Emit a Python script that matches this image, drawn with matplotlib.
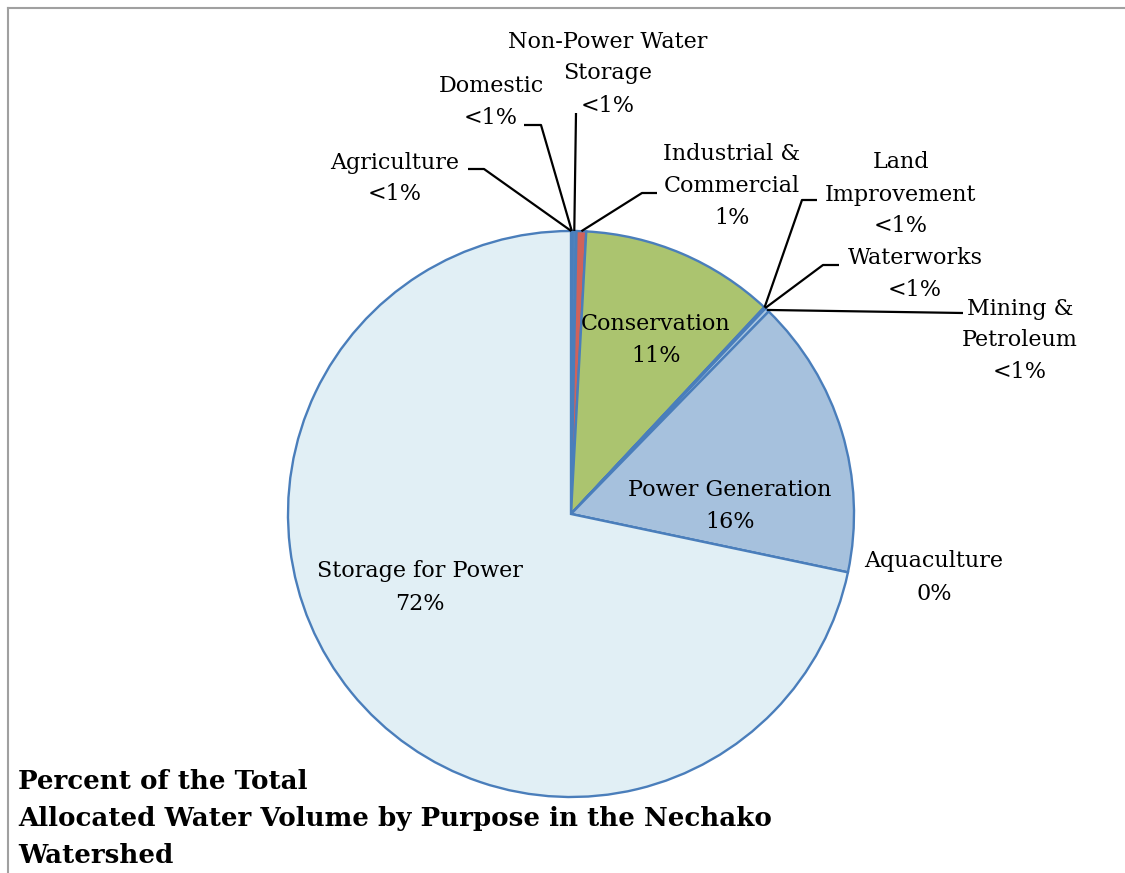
import numpy as np
import matplotlib
matplotlib.use("Agg")
import matplotlib.pyplot as plt
from matplotlib.lines import Line2D

categories = ["Agriculture", "Domestic", "Non-Power Water\nStorage", "Industrial &\nCommercial",
              "Conservation", "Land\nImprovement", "Waterworks", "Mining &\nPetroleum",
              "Power Generation", "Aquaculture", "Storage for Power"]
values = [0.03, 0.03, 0.25, 0.55, 11.1, 0.05, 0.05, 0.25, 16.0, 0.0, 71.7]
pct_labels = ["<1%", "<1%", "<1%", "1%", "11%", "<1%", "<1%", "<1%", "16%", "0%", "72%"]
colors = ["#4F81BD", "#4F81BD", "#4F81BD", "#D0625A", "#ABC46F", "#A9C6E2", "#A9C6E2",
          "#A9C6E2", "#A6C1DD", "#A6C1DD", "#E1EFF5"]
title_lines = ["Percent of the Total",
               "Allocated Water Volume by Purpose in the Nechako",
               "Watershed"]

W, H = 1125, 873
fig = plt.figure(figsize=(W / 100, H / 100), dpi=100)
ax = fig.add_axes([0, 0, 1, 1])
ax.set_xlim(0, W)
ax.set_ylim(0, H)
ax.set_aspect("equal")
ax.axis("off")

cx, cy, R = 571, H - 514, 283
wedges, _ = ax.pie(values, colors=colors, startangle=90, counterclock=False,
                   center=(cx, cy), radius=R,
                   wedgeprops=dict(edgecolor="#4A7EBB", linewidth=1.7))
ax.set_xlim(0, W)
ax.set_ylim(0, H)

font = ["DejaVu Serif"]
fs = 16
line_h = 32

# label text centers (pixel coords from top), leader elbow points or None
label_pos = {
    0: ((395, 176), [(468, 169), (484, 169)]),
    1: ((491, 100), [(524, 125), (541, 125)]),
    2: ((608, 71), [(576, 113)]),
    3: ((732, 183), [(657, 193), (642, 193)]),
    4: ((656, 337), None),
    5: ((901, 192), [(817, 200), (802, 200)]),
    6: ((915, 272), [(839, 265), (823, 265)]),
    7: ((1020, 338), [(963, 313)]),
    8: ((730, 503), None),
    9: ((934, 575), None),
    10: ((420, 585), None),
}

for i, w in enumerate(wedges):
    (tx, ty), leader = label_pos[i]
    lines = (categories[i] + "\n" + pct_labels[i]).split("\n")
    n = len(lines)
    for k, s in enumerate(lines):
        yk = ty + (k - (n - 1) / 2) * line_h
        ax.text(tx, H - yk, s, ha="center", va="center_baseline",
                fontsize=fs, family=font, color="black")
    if leader:
        mid = np.deg2rad((w.theta1 + w.theta2) / 2)
        ex, ey = cx + R * np.cos(mid), cy + R * np.sin(mid)
        xs = [p[0] for p in leader] + [ex]
        ys = [H - p[1] for p in leader] + [ey]
        ax.plot(xs, ys, color="black", lw=1.6, solid_capstyle="butt")

for k, s in enumerate(title_lines):
    yk = 779 + k * 37
    fig.text(18 / W, 1 - yk / H, s, ha="left", va="center_baseline",
             fontsize=18.8, fontweight="bold", family=font)

# outer frame (top and left)
fig.add_artist(Line2D([8 / W, 1], [1 - 8 / H, 1 - 8 / H], transform=fig.transFigure,
                      color="#A0A0A0", lw=1.5))
fig.add_artist(Line2D([8 / W, 8 / W], [0, 1 - 8 / H], transform=fig.transFigure,
                      color="#A0A0A0", lw=1.5))

fig.savefig("out.png", dpi=100)
